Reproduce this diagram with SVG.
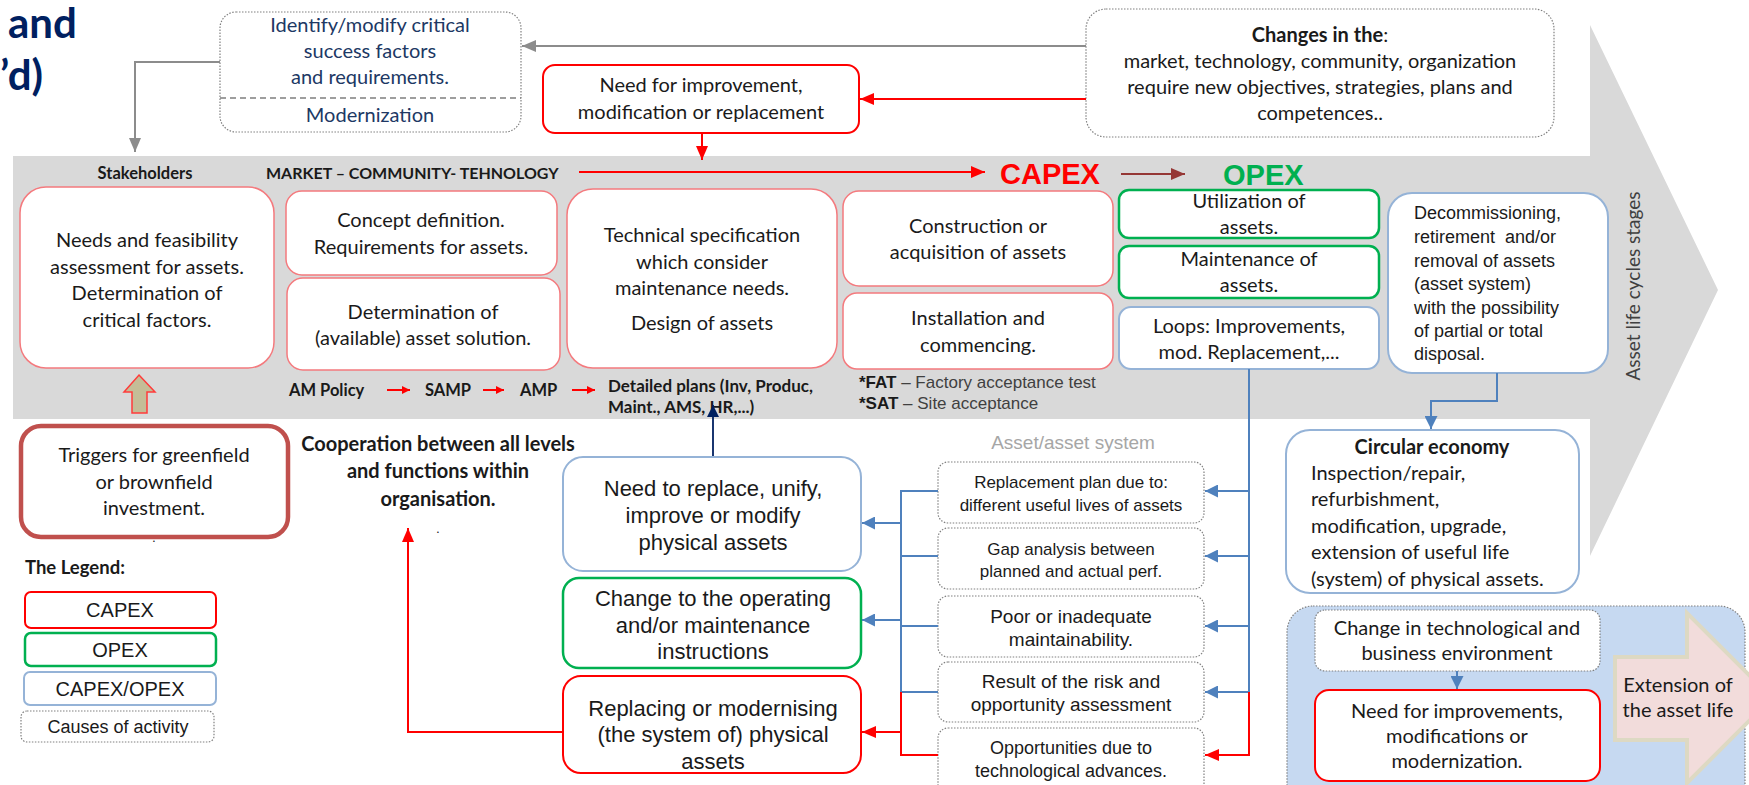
<svg xmlns="http://www.w3.org/2000/svg" width="1749" height="785" viewBox="0 0 1749 785">
<style>
  text { fill: #1a1a1a; }
  .c { font-family: Lato, "Open Sans", sans-serif; font-size: 20px; text-anchor: middle; }
  .cb { font-family: Lato, "Open Sans", sans-serif; font-weight: bold; }
  .a { font-family: "Liberation Sans", Arial, sans-serif; text-anchor: middle; }
  .capex { fill: #fff; stroke: #F47A7E; stroke-width: 1.5; }
  .red { fill: #fff; stroke: #FF0000; stroke-width: 2; }
  .green { fill: #fff; stroke: #00B050; stroke-width: 2.5; }
  .blue { fill: #fff; stroke: #95B3D7; stroke-width: 2; }
  .dot { fill: #fff; stroke: #808080; stroke-width: 1.2; stroke-dasharray: 1.5 1.5; }
  .navy { fill: #203864; }
  .ln-gray { fill: none; stroke: #8C8C8C; stroke-width: 2; }
  .ln-red { fill: none; stroke: #FF0000; stroke-width: 2; }
  .ln-blue { fill: none; stroke: #4F81BD; stroke-width: 2; }
  .ln-navy { fill: none; stroke: #002060; stroke-width: 1.8; }
  .ln-brown { fill: none; stroke: #953735; stroke-width: 2; }
</style>
<defs>
  <marker id="ah-gray" viewBox="0 0 14 12" markerWidth="14" markerHeight="12" refX="14" refY="6" orient="auto" markerUnits="userSpaceOnUse"><path d="M0,0 L14,6 L0,12z" fill="#8C8C8C"/></marker>
  <marker id="ah-red" viewBox="0 0 14 12" markerWidth="14" markerHeight="12" refX="14" refY="6" orient="auto" markerUnits="userSpaceOnUse"><path d="M0,0 L14,6 L0,12z" fill="#FF0000"/></marker>
  <marker id="ah-red-s" viewBox="0 0 8 8" markerWidth="8" markerHeight="8" refX="8" refY="4" orient="auto" markerUnits="userSpaceOnUse"><path d="M0,0 L8,4 L0,8z" fill="#FF0000"/></marker>
  <marker id="ah-blue" viewBox="0 0 13 13" markerWidth="13" markerHeight="13" refX="13" refY="6.5" orient="auto" markerUnits="userSpaceOnUse"><path d="M0,0 L13,6.5 L0,13z" fill="#4F81BD"/></marker>
  <marker id="ah-navy" viewBox="0 0 12 12" markerWidth="12" markerHeight="12" refX="12" refY="6" orient="auto" markerUnits="userSpaceOnUse"><path d="M0,0 L12,6 L0,12z" fill="#002060"/></marker>
  <marker id="ah-brown" viewBox="0 0 14 12" markerWidth="14" markerHeight="12" refX="14" refY="6" orient="auto" markerUnits="userSpaceOnUse"><path d="M0,0 L14,6 L0,12z" fill="#953735"/></marker>
</defs>

<rect width="1749" height="785" fill="#fff"/>

<!-- life-cycle band with arrow head -->
<polygon points="13,156 1590,156 1590,25 1718,290 1590,556 1590,419 13,419" fill="#D9D9D9"/>
<text transform="translate(1640,286) rotate(-90)" class="c" style="font-size:19px;fill:#404040">Asset life cycles stages</text>

<!-- title fragment -->
<g id="title" class="cb" style="font-size:42px">
  <text x="8" y="38" style="fill:#002060">and</text>
  <text x="0" y="90" style="fill:#002060">’d)</text>
</g>

<!-- band headings -->
<g id="headings">
  <text x="145" y="179" class="cb" style="font-size:16.5px;text-anchor:middle">Stakeholders</text>
  <text x="266" y="179" class="cb" style="font-size:16px">MARKET – COMMUNITY- TEHNOLOGY</text>
  <text x="1000" y="184" style="font-family:'Liberation Sans',Arial,sans-serif;font-weight:bold;font-size:29px;fill:#FF0000">CAPEX</text>
  <text x="1223" y="185" style="font-family:'Liberation Sans',Arial,sans-serif;font-weight:bold;font-size:29px;fill:#00B050">OPEX</text>
</g>

<!-- top boxes -->
<g id="identify">
  <rect x="220" y="12" width="301" height="120" rx="16" class="dot"/>
  <line x1="220" y1="98" x2="521" y2="98" stroke="#7f7f7f" stroke-width="1.5" stroke-dasharray="6 4"/>
  <text class="c navy" x="370"><tspan x="370" y="32">Identify/modify critical</tspan><tspan x="370" y="58">success factors</tspan><tspan x="370" y="84">and requirements.</tspan><tspan x="370" y="122">Modernization</tspan></text>
</g>
<g id="need-improvement">
  <rect x="543" y="65" width="316" height="68" rx="12" class="red"/>
  <text class="c"><tspan x="701" y="92">Need for improvement,</tspan><tspan x="701" y="119">modification or replacement</tspan></text>
</g>
<g id="changes">
  <rect x="1086" y="9" width="468" height="128" rx="20" class="dot"/>
  <text class="c"><tspan x="1320" y="42"><tspan style="font-weight:bold">Changes in the</tspan>:</tspan><tspan x="1320" y="68">market, technology, community, organization</tspan><tspan x="1320" y="94">require new objectives, strategies, plans and</tspan><tspan x="1320" y="120">competences..</tspan></text>
</g>

<!-- CAPEX stages -->
<g id="needs-feasibility">
  <rect x="20" y="187" width="254" height="181" rx="26" class="capex"/>
  <text class="c"><tspan x="147" y="247">Needs and feasibility</tspan><tspan x="147" y="274">assessment for assets.</tspan><tspan x="147" y="300">Determination of</tspan><tspan x="147" y="327">critical factors.</tspan></text>
</g>
<g id="concept">
  <rect x="286" y="191" width="271" height="84" rx="16" class="capex"/>
  <text class="c"><tspan x="421" y="227">Concept definition.</tspan><tspan x="421" y="254">Requirements for assets.</tspan></text>
</g>
<g id="solution">
  <rect x="287" y="278" width="273" height="92" rx="16" class="capex"/>
  <text class="c"><tspan x="423" y="319">Determination of</tspan><tspan x="423" y="345">(available) asset solution.</tspan></text>
</g>
<g id="tech-spec">
  <rect x="567" y="189" width="270" height="179" rx="26" class="capex"/>
  <text class="c"><tspan x="702" y="242">Technical specification</tspan><tspan x="702" y="269">which consider</tspan><tspan x="702" y="295">maintenance needs.</tspan><tspan x="702" y="330">Design of assets</tspan></text>
</g>
<g id="construction">
  <rect x="843" y="191" width="270" height="95" rx="16" class="capex"/>
  <text class="c"><tspan x="978" y="233">Construction or</tspan><tspan x="978" y="259">acquisition of assets</tspan></text>
</g>
<g id="installation">
  <rect x="843" y="293" width="270" height="76" rx="14" class="capex"/>
  <text class="c"><tspan x="978" y="325">Installation and</tspan><tspan x="978" y="352">commencing.</tspan></text>
</g>
<g id="fat-sat" style="font-family:'Liberation Sans',Arial,sans-serif;font-size:17px">
  <text x="859" y="388"><tspan style="font-weight:bold">*FAT</tspan><tspan style="fill:#404040"> – Factory acceptance test</tspan></text>
  <text x="859" y="409"><tspan style="font-weight:bold">*SAT</tspan><tspan style="fill:#404040"> – Site acceptance</tspan></text>
</g>
<g id="plans" class="cb" style="font-size:16.5px">
  <text x="289" y="396">AM Policy</text>
  <text x="425" y="396">SAMP</text>
  <text x="520" y="396">AMP</text>
  <text x="608" y="392" style="font-size:17px">Detailed plans (Inv, Produc,</text>
  <text x="608" y="413" style="font-size:17px">Maint., AMS, HR,...)</text>
</g>

<!-- OPEX stages -->
<g id="utilization">
  <rect x="1119" y="190" width="260" height="48" rx="10" class="green"/>
  <text class="c"><tspan x="1249" y="208">Utilization of</tspan><tspan x="1249" y="234">assets.</tspan></text>
</g>
<g id="maintenance">
  <rect x="1119" y="246" width="260" height="52" rx="10" class="green"/>
  <text class="c"><tspan x="1249" y="266">Maintenance of</tspan><tspan x="1249" y="292">assets.</tspan></text>
</g>
<g id="loops">
  <rect x="1119" y="307" width="260" height="62" rx="12" class="blue"/>
  <text class="c"><tspan x="1249" y="333">Loops: Improvements,</tspan><tspan x="1249" y="359">mod. Replacement,...</tspan></text>
</g>
<g id="decommissioning">
  <rect x="1388" y="193" width="220" height="180" rx="24" class="blue"/>
  <text style="font-family:'Liberation Sans',Arial,sans-serif;font-size:18px;white-space:pre"><tspan x="1414" y="219">Decommissioning,</tspan><tspan x="1414" y="243">retirement  and/or</tspan><tspan x="1414" y="267">removal of assets</tspan><tspan x="1414" y="290">(asset system)</tspan><tspan x="1414" y="314">with the possibility</tspan><tspan x="1414" y="337">of partial or total</tspan><tspan x="1414" y="360">disposal.</tspan></text>
</g>
<g id="circular">
  <rect x="1286" y="430" width="293" height="163" rx="24" class="blue"/>
  <text x="1432" y="454" class="cb" style="font-size:20px;text-anchor:middle">Circular economy</text>
  <text class="c" style="text-anchor:start"><tspan x="1311" y="480">Inspection/repair,</tspan><tspan x="1311" y="506">refurbishment,</tspan><tspan x="1311" y="533">modification, upgrade,</tspan><tspan x="1311" y="559">extension of useful life</tspan><tspan x="1311" y="586">(system) of physical assets.</tspan></text>
</g>

<!-- extension region -->
<g id="extension">
  <rect x="1287" y="606" width="458" height="220" rx="26" fill="#C6D9F1" stroke="#808080" stroke-width="1.2" stroke-dasharray="1.5 1.5"/>
  <polygon points="1615,657 1687,657 1687,613 1772,698 1687,783 1687,740 1615,740" fill="#F2DCDB" stroke="#DDD9C3" stroke-width="4"/>
  <text class="c"><tspan x="1678" y="692">Extension of</tspan><tspan x="1678" y="717">the asset life</tspan></text>
</g>
<g id="tech-change">
  <rect x="1315" y="610" width="285" height="61" rx="10" class="dot"/>
  <text class="c"><tspan x="1457" y="635">Change in technological and</tspan><tspan x="1457" y="660">business environment</tspan></text>
</g>
<g id="need-improvements">
  <rect x="1315" y="690" width="285" height="91" rx="14" class="red"/>
  <text class="c"><tspan x="1457" y="718">Need for improvements,</tspan><tspan x="1457" y="743">modifications or</tspan><tspan x="1457" y="768">modernization.</tspan></text>
</g>

<!-- causes of activity -->
<text x="1073" y="449" class="a" style="font-size:19px;fill:#A6A6A6">Asset/asset system</text>
<g id="cause-replacement">
  <rect x="938" y="462" width="266" height="61" rx="10" class="dot"/>
  <text class="a" style="font-size:17px"><tspan x="1071" y="488">Replacement plan due to:</tspan><tspan x="1071" y="511">different useful lives of assets</tspan></text>
</g>
<g id="cause-gap">
  <rect x="938" y="528" width="266" height="61" rx="10" class="dot"/>
  <text class="a" style="font-size:17px"><tspan x="1071" y="555">Gap analysis between</tspan><tspan x="1071" y="577">planned and actual perf.</tspan></text>
</g>
<g id="cause-maintainability">
  <rect x="938" y="596" width="266" height="61" rx="10" class="dot"/>
  <text class="a" style="font-size:19px"><tspan x="1071" y="623">Poor or inadequate</tspan><tspan x="1071" y="646">maintainability.</tspan></text>
</g>
<g id="cause-risk">
  <rect x="938" y="662" width="266" height="60" rx="10" class="dot"/>
  <text class="a" style="font-size:19px"><tspan x="1071" y="688">Result of the risk and</tspan><tspan x="1071" y="711">opportunity assessment</tspan></text>
</g>
<g id="cause-technology">
  <rect x="938" y="728" width="266" height="70" rx="10" class="dot"/>
  <text class="a" style="font-size:18px"><tspan x="1071" y="754">Opportunities due to</tspan><tspan x="1071" y="777">technological advances.</tspan></text>
</g>

<!-- resulting actions -->
<g id="need-replace">
  <rect x="563" y="457" width="298" height="114" rx="20" class="blue"/>
  <text class="a" style="font-size:22px"><tspan x="713" y="496">Need to replace, unify,</tspan><tspan x="713" y="523">improve or modify</tspan><tspan x="713" y="550">physical assets</tspan></text>
</g>
<g id="change-instructions">
  <rect x="563" y="578" width="298" height="90" rx="16" class="green"/>
  <text class="a" style="font-size:22px"><tspan x="713" y="606">Change to the operating</tspan><tspan x="713" y="633">and/or maintenance</tspan><tspan x="713" y="659">instructions</tspan></text>
</g>
<g id="replacing">
  <rect x="563" y="676" width="298" height="97" rx="18" class="red"/>
  <text class="a" style="font-size:22px"><tspan x="713" y="716">Replacing or modernising</tspan><tspan x="713" y="742">(the system of) physical</tspan><tspan x="713" y="769">assets</tspan></text>
</g>

<g id="cooperation">
  <text class="cb" style="font-size:20px;text-anchor:middle"><tspan x="438" y="451">Cooperation between all levels</tspan><tspan x="438" y="478">and functions within</tspan><tspan x="438" y="506">organisation.</tspan></text>
  <text x="438" y="533" class="c" style="font-size:12px">.</text>
</g>

<g id="triggers">
  <rect x="21" y="426" width="267" height="111" rx="20" fill="#fff" stroke="#C0504D" stroke-width="4.5"/>
  <text class="c"><tspan x="154" y="462">Triggers for greenfield</tspan><tspan x="154" y="489">or brownfield</tspan><tspan x="154" y="515">investment.</tspan></text>
  <text x="154" y="542" class="c" style="font-size:12px">.</text>
</g>
<polygon id="trigger-arrow" points="139,375 155,392 147,392 147,413 132,413 132,392 124,392" fill="#C4BD97" stroke="#FF3B3B" stroke-width="1.5"/>

<!-- legend -->
<g id="legend">
  <text x="25" y="574" class="cb" style="font-size:18.5px">The Legend:</text>
  <rect x="25" y="592" width="191" height="36" rx="6" class="red"/>
  <text x="120" y="617" class="a" style="font-size:20px">CAPEX</text>
  <rect x="25" y="633" width="191" height="33" rx="6" class="green"/>
  <text x="120" y="657" class="a" style="font-size:20px">OPEX</text>
  <rect x="24" y="672" width="192" height="33" rx="6" class="blue"/>
  <text x="120" y="696" class="a" style="font-size:20px">CAPEX/OPEX</text>
  <rect x="21" y="711" width="193" height="31" rx="6" class="dot"/>
  <text x="118" y="733" class="a" style="font-size:18px">Causes of activity</text>
</g>

<!-- connectors -->
<g id="connectors">
  <path class="ln-gray" d="M1086,46 L522,46" marker-end="url(#ah-gray)"/>
  <path class="ln-gray" d="M220,62 L135,62 L135,152" marker-end="url(#ah-gray)"/>
  <path class="ln-red" d="M1086,99 L860,99" marker-end="url(#ah-red)"/>
  <path class="ln-red" d="M702,133 L702,160" marker-end="url(#ah-red)"/>
  <path class="ln-red" d="M579,172 L985,172" marker-end="url(#ah-red)"/>
  <path class="ln-brown" d="M1121,174 L1185,174" marker-end="url(#ah-brown)"/>
  <path class="ln-red" d="M387,390 L410,390" marker-end="url(#ah-red-s)"/>
  <path class="ln-red" d="M483,390 L504,390" marker-end="url(#ah-red-s)"/>
  <path class="ln-red" d="M572,390 L595,390" marker-end="url(#ah-red-s)"/>
  <path class="ln-navy" d="M713,456 L713,405" marker-end="url(#ah-navy)"/>
  <path class="ln-blue" d="M1497,373 L1497,401 L1431,401 L1431,429" marker-end="url(#ah-blue)"/>
  <path class="ln-blue" d="M1457,671 L1457,689" marker-end="url(#ah-blue)"/>
  <!-- trunk from the loops box to the causes -->
  <path class="ln-blue" d="M1249,369 L1249,692"/>
  <path class="ln-blue" d="M1249,491 L1205,491" marker-end="url(#ah-blue)"/>
  <path class="ln-blue" d="M1249,556 L1205,556" marker-end="url(#ah-blue)"/>
  <path class="ln-blue" d="M1249,626 L1205,626" marker-end="url(#ah-blue)"/>
  <path class="ln-blue" d="M1249,692 L1205,692" marker-end="url(#ah-blue)"/>
  <path class="ln-red" d="M1249,692 L1249,755 L1205,755" marker-end="url(#ah-red)"/>
  <!-- bracket from the causes to the actions -->
  <path class="ln-blue" d="M938,491 L901,491 L901,692 L938,692"/>
  <path class="ln-blue" d="M938,556 L901,556"/>
  <path class="ln-blue" d="M938,626 L901,626"/>
  <path class="ln-red" d="M901,692 L901,755 L938,755"/>
  <path class="ln-blue" d="M901,523 L862,523" marker-end="url(#ah-blue)"/>
  <path class="ln-blue" d="M901,620 L862,620" marker-end="url(#ah-blue)"/>
  <path class="ln-red" d="M901,732 L862,732" marker-end="url(#ah-red)"/>
  <path class="ln-red" d="M563,732 L408,732 L408,528" marker-end="url(#ah-red)"/>
</g>
</svg>
